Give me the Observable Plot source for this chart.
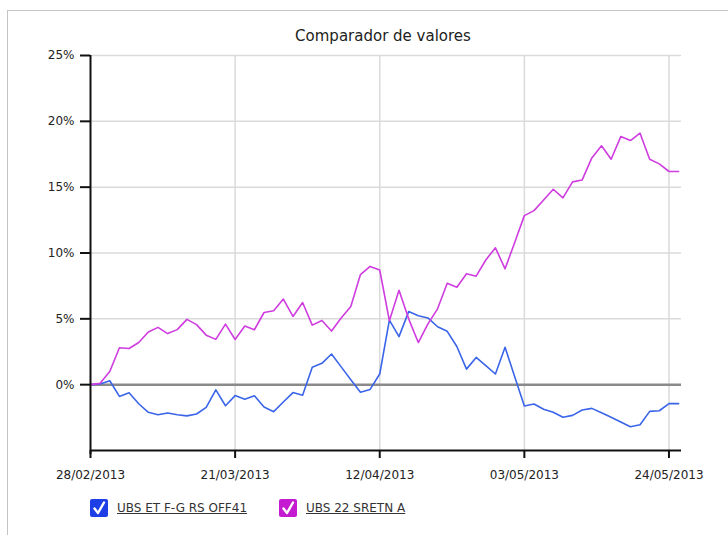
<!DOCTYPE html>
<html><head><meta charset="utf-8">
<script src="https://cdn.jsdelivr.net/npm/d3@7"></script>
<script src="https://cdn.jsdelivr.net/npm/@observablehq/plot@0.6"></script>
<style>
body{margin:0;background:#fff;font-family:"DejaVu Sans",sans-serif;}
#wrap{position:relative;width:728px;height:535px;overflow:hidden;background:#fff;}
#frame{position:absolute;left:7px;top:10px;width:740px;height:540px;border-top:1px solid #c4c4c4;border-left:1px solid #c4c4c4;}
#title{position:absolute;left:0;width:766px;top:27px;text-align:center;font-size:15px;color:#222;}
#chart{position:absolute;left:0;top:0;}
.leg{position:absolute;top:499px;height:18px;display:flex;align-items:center;font-size:12px;color:#333;}
.leg svg{display:block;margin-right:9px;}
.leg span{text-decoration:underline;}
</style>
</head><body>
<div id="wrap">
  <div id="frame"></div>
  <div id="title">Comparador de valores</div>
  <div id="chart"></div>
  <div id="legend"></div>
</div>
<script>
// Series (percent change), one value per trading session
const seriesNames = ["UBS ET F-G RS OFF41", "UBS 22 SRETN A"];
const seriesColors = ["#3b65e8", "#cf3cdf"];
const boxColors = ["#1e3fe6", "#c41ad0"];

const ubsEtValues = [
  0, 0.05, 0.3, -0.89, -0.61, -1.45, -2.1, -2.28, -2.15, -2.28,
  -2.37, -2.23, -1.72, -0.4, -1.6, -0.83, -1.11, -0.84, -1.7, -2.05,
  -1.32, -0.6, -0.8, 1.32, 1.62, 2.33, 1.35, 0.38, -0.58, -0.36,
  0.81, 4.9, 3.65, 5.55, 5.23, 5.07, 4.4, 4.05, 2.9, 1.18,
  2.07, 1.44, 0.81, 2.84, 0.6, -1.62, -1.47, -1.87, -2.1, -2.48,
  -2.33, -1.92, -1.8, -2.13, -2.48, -2.83, -3.19, -3.04, -2.03, -1.98,
  -1.44, -1.44
];
const ubs22Values = [
  0, 0.1, 1.0, 2.8, 2.75, 3.2, 4.0, 4.35, 3.88, 4.18,
  4.96, 4.56, 3.76, 3.44, 4.6, 3.43, 4.45, 4.17, 5.48, 5.62,
  6.5, 5.18, 6.24, 4.52, 4.88, 4.07, 5.07, 5.93, 8.36, 8.98,
  8.71, 4.86, 7.17, 5.0, 3.2, 4.62, 5.76, 7.7, 7.4, 8.43,
  8.24, 9.47, 10.39, 8.8, 10.8, 12.84, 13.22, 14.03, 14.84, 14.18,
  15.4, 15.55, 17.22, 18.14, 17.12, 18.84, 18.54, 19.1, 17.12, 16.77,
  16.19, 16.19
];

// X tick labels and the session index at which each falls
const tickLabels = ["28/02/2013", "21/03/2013", "12/04/2013", "03/05/2013", "24/05/2013"];
const tickIndex = [0, 15, 30, 45, 60];
const yTicks = [0, 5, 10, 15, 20, 25];
const yGrid = [5, 10, 15, 20, 25];

const data = [];
ubsEtValues.forEach((v, i) => data.push({i, v, s: seriesNames[0]}));
ubs22Values.forEach((v, i) => data.push({i, v, s: seriesNames[1]}));

const plot = Plot.plot({
  width: 728,
  height: 490,
  marginTop: 55,
  marginBottom: 40,
  marginLeft: 90,
  marginRight: 47,
  style: {fontFamily: "DejaVu Sans, sans-serif", fontSize: "12px", color: "#222", background: "transparent"},
  x: {domain: [0, 61.3]},
  y: {domain: [-5, 25]},
  color: {domain: seriesNames, range: seriesColors},
  marks: [
    Plot.ruleY(yGrid, {stroke: "#dadada", strokeWidth: 1.5}),
    Plot.ruleX(tickIndex.slice(1), {stroke: "#dadada", strokeWidth: 1.5}),
    Plot.ruleY([0], {stroke: "#8a8a8a", strokeWidth: 2.5}),
    Plot.line(data, {x: "i", y: "v", z: "s", stroke: "s", strokeWidth: 1.6}),
    Plot.ruleX([0], {stroke: "#111", strokeWidth: 2, y1: -5.3, y2: 25}),
    Plot.ruleY([-5], {stroke: "#111", strokeWidth: 2}),
    Plot.axisY({ticks: yTicks, tickFormat: d => d + "%", tickSize: 10, tickPadding: 6, strokeWidth: 2, stroke: "#111", fontSize: 12, label: null}),
    Plot.axisX({ticks: tickIndex, tickFormat: d => tickLabels[tickIndex.indexOf(d)], tickSize: 8, tickPadding: 12, strokeWidth: 2, stroke: "#111", fontSize: 12, label: null})
  ]
});
document.getElementById("chart").appendChild(plot);

// Legend (checkbox style)
const legend = document.getElementById("legend");
const legLeft = [90, 279];
seriesNames.forEach((name, k) => {
  const d = document.createElement("div");
  d.className = "leg";
  d.style.left = legLeft[k] + "px";
  d.innerHTML = `<svg width="18" height="18"><rect width="18" height="18" rx="2" fill="${boxColors[k]}"/><path d="M4.5 9.5 L8 14 L14 3.5" fill="none" stroke="#fff" stroke-width="2.4" stroke-linecap="round" stroke-linejoin="round"/></svg><span>${name}</span>`;
  legend.appendChild(d);
});
</script>
</body></html>
